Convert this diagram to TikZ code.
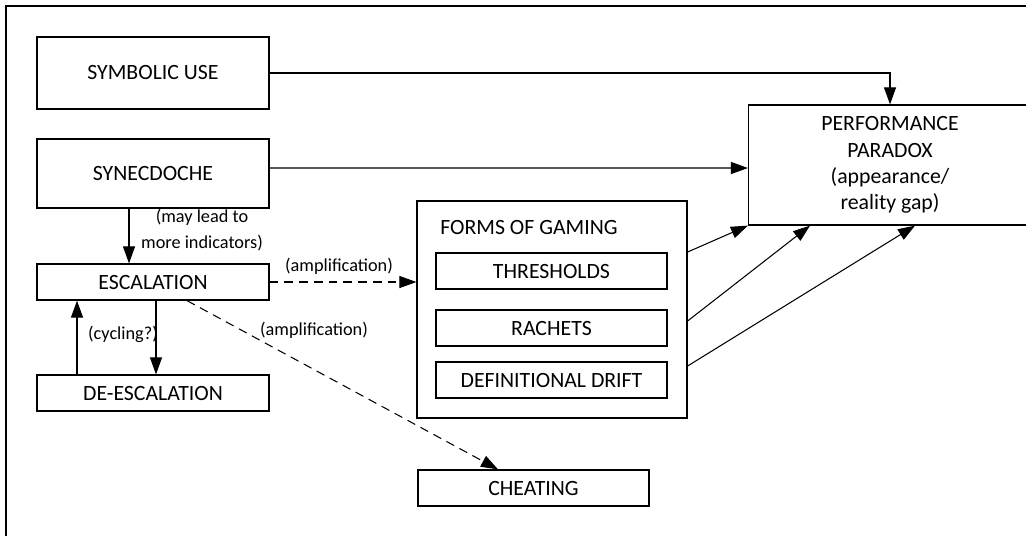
\documentclass[tikz,border=0pt]{standalone}
\usepackage{fontspec}
\setmainfont{Carlito}
\usetikzlibrary{arrows.meta}

\begin{document}
\begin{tikzpicture}[x=0.02cm,y=-0.02cm,
        box/.style={draw,line width=0.7pt,inner sep=0pt,minimum width=4.64cm,minimum height=0.72cm,
            font=\fontsize{12.4}{15}\selectfont,align=center},
        note/.style={inner sep=0pt,font=\fontsize{10.4}{14.7}\selectfont,align=center},
        link/.style={line width=0.6pt,-{Triangle[length=3.4mm,width=2.4mm]}},
        amp/.style={link,dash pattern=on 5pt off 3.4pt}]
            \clip (0,0) rectangle (1026,535);
            \draw [line width=0.7pt] (1040,6) -- (6,6) -- (6,545);
            % left column
            \node [box,minimum height=1.44cm] (symb) at (153,73) {SYMBOLIC USE};
            \node [box,minimum height=1.38cm] (synec) at (153,173.5) {SYNECDOCHE};
            \node [box] (esc) at (153,282) {ESCALATION};
            \node [box] (deesc) at (153,393) {DE-ESCALATION};
            % gaming
            \node [box,minimum width=5.4cm,minimum height=4.34cm] (forms) at (552,309.5) {};
            \node [note,anchor=west,font=\fontsize{12.4}{15}\selectfont] (formstitle) at (440,227) {FORMS OF GAMING};
            \node [box,minimum width=4.62cm] (thresh) at (551.5,271) {THRESHOLDS};
            \node [box,minimum width=4.62cm] (rachets) at (551.5,328) {RACHETS};
            \node [box,minimum width=4.62cm] (drift) at (551.5,380) {DEFINITIONAL DRIFT};
            \node [box,minimum width=4.62cm] (cheat) at (533.5,488) {CHEATING};
            \node [box,minimum width=5.66cm,minimum height=2.4cm] (perf) at (890,165)
                {PERFORMANCE\\PARADOX\\(appearance/\\reality gap)};
            % connectors
            \draw [link] (symb.east) -| (perf.north);
            \draw [link] ([yshift=0.11cm]synec.east) -- ([yshift=-0.06cm]perf.west);
            \draw [link] ([xshift=-0.48cm]synec.south) -- ([xshift=-0.48cm]esc.north);
            \node [note] (mayleadlbl) at (202,230) {(may lead to\\more indicators)};
            \draw [link] ([xshift=-1.52cm]deesc.north) -- ([xshift=-1.52cm]esc.south);
            \draw [link] ([xshift=0.06cm]esc.south) -- ([xshift=0.06cm]deesc.north);
            \node [note] (cyclelbl) at (123,334) {(cycling?)};
            \draw [amp] (esc.east) -- (esc.east -| forms.west);
            \node [note] (amplbla) at (339,266) {(amplification)};
            \draw [amp] ([xshift=0.68cm]esc.south) -- ([xshift=-0.71cm]cheat.north);
            \node [note] (amplblb) at (314,330) {(amplification)};
            \draw [link] ([yshift=1.15cm]forms.east) -- (perf.south west);
            \draw [link] ([yshift=-0.23cm]forms.east) -- ([xshift=-1.6cm]perf.south);
            \draw [link] ([yshift=-1.13cm]forms.east) -- ([xshift=0.5cm]perf.south);
        \end{tikzpicture}
\end{document}
